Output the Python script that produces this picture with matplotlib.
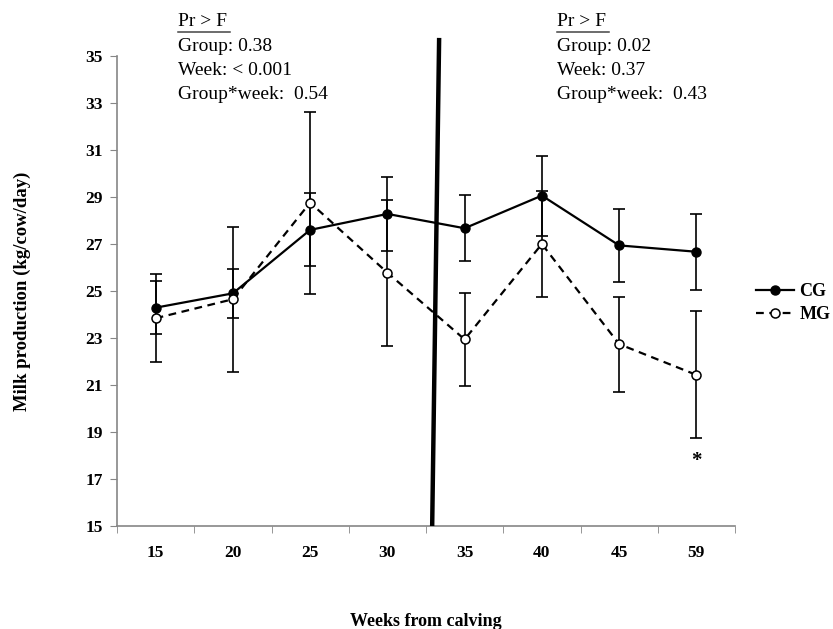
import numpy as np
import matplotlib.pyplot as plt
from matplotlib.lines import Line2D

weeks = ['15', '20', '25', '30', '35', '40', '45', '59']
cg_mean = [24.29, 24.90, 27.60, 28.28, 27.67, 29.06, 26.94, 26.67]
cg_err = [1.13, 1.05, 1.55, 1.57, 1.40, 1.70, 1.56, 1.62]
mg_mean = [23.84, 24.65, 28.76, 25.78, 22.94, 27.00, 22.74, 21.43]
mg_err = [1.87, 3.08, 3.87, 3.10, 1.97, 2.27, 2.02, 2.70]

# thick divider between the two periods (category index, value)
divider_x = [3.58, 3.67]
divider_y = [15.0, 35.77]

left_stats = ['Group: 0.38', 'Week: < 0.001', 'Group*week:  0.54']
right_stats = ['Group: 0.02', 'Week: 0.37', 'Group*week:  0.43']

SERIF = ['Liberation Serif', 'DejaVu Serif']
GREY = '#868686'


def main():
    plt.rcParams['font.family'] = SERIF
    fig = plt.figure(figsize=(8.33, 6.29), dpi=100)
    ax = fig.add_axes([117 / 833, 1 - 526 / 629, 618 / 833, 470 / 629])

    x = np.arange(len(weeks))

    ax.errorbar(x, cg_mean, yerr=cg_err, fmt='none', ecolor='black',
                elinewidth=1.2, capsize=4, capthick=1.2, zorder=2)
    ax.errorbar(x, mg_mean, yerr=mg_err, fmt='none', ecolor='black',
                elinewidth=1.2, capsize=4, capthick=1.2, zorder=2)
    ax.plot(x, cg_mean, '-', color='black', lw=1.6, marker='o', ms=6.5,
            mfc='black', mec='black', label='CG', zorder=3)
    ax.plot(x, mg_mean, '--', color='black', lw=1.6, dashes=(3.5, 2.5),
            marker='o', ms=6.5, mfc='white', mec='black', mew=1.1,
            label='MG', zorder=4)

    ax.plot(divider_x, divider_y, color='black', lw=3.2, clip_on=False,
            solid_capstyle='butt', zorder=5)

    ax.text(7, 17.75, '*', ha='center', va='center', fontsize=15,
            fontweight='bold')

    ax.set_xlim(-0.5, len(weeks) - 0.5)
    ax.set_ylim(15, 35)
    ax.set_yticks(np.arange(15, 36, 2))
    ax.set_xticks(x)
    ax.set_xticklabels(weeks)
    ax.set_xticks(np.arange(-0.5, len(weeks), 1), minor=True)
    ax.tick_params(axis='x', which='major', length=0, pad=14)
    ax.tick_params(axis='x', which='minor', length=5, color=GREY,
                   direction='out')
    ax.tick_params(axis='y', length=5, color=GREY, direction='out', pad=5)
    for lab in ax.get_xticklabels() + ax.get_yticklabels():
        lab.set_fontweight('bold')
        lab.set_fontsize(12.5)

    for s in ['top', 'right']:
        ax.spines[s].set_visible(False)
    for s in ['left', 'bottom']:
        ax.spines[s].set_color(GREY)
        ax.spines[s].set_linewidth(1.2)

    fig.text(22 / 833, 1 - 291 / 629, 'Milk production (kg/cow/day)',
             rotation=90, ha='center', va='center', fontsize=13.5,
             fontweight='bold')
    fig.text(426 / 833, 1 - 621 / 629, 'Weeks from calving', ha='center',
             va='center', fontsize=13, fontweight='bold')

    # Pr > F blocks
    for x0, stats in [(178, left_stats), (557, right_stats)]:
        fig.text(x0 / 833, 1 - 22 / 629, 'Pr > F', ha='left', va='center',
                 fontsize=14)
        fig.add_artist(Line2D([x0 / 833, (x0 + 52) / 833],
                              [1 - 31.5 / 629, 1 - 31.5 / 629],
                              color='#444444', lw=1.1))
        for i, s in enumerate(stats):
            fig.text(x0 / 833, 1 - (46.5 + 24 * i) / 629, s, ha='left',
                     va='center', fontsize=14)

    ax.legend(loc='center left', bbox_to_anchor=(756 / 833, 1 - 303 / 629),
              bbox_transform=fig.transFigure, frameon=False, borderpad=0,
              borderaxespad=0, handlelength=2.1, handletextpad=0.3,
              labelspacing=0.35, numpoints=1,
              prop={'family': SERIF, 'weight': 'bold', 'size': 13})

    fig.savefig('out.png', dpi=100)


if __name__ == "__main__":
    main()
